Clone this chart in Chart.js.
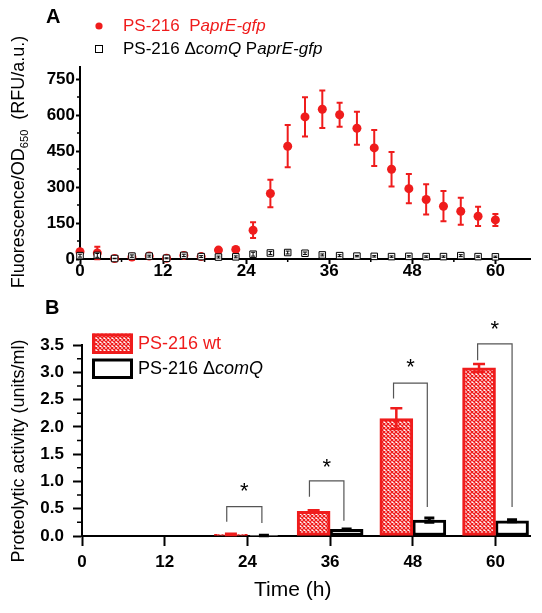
<!DOCTYPE html>
<html><head><meta charset="utf-8">
<script src="https://cdn.jsdelivr.net/npm/chart.js@4.4.1/dist/chart.umd.min.js"></script>
<style>
html,body{margin:0;padding:0;background:#fff;}
#wrap{position:relative;width:542px;height:613px;overflow:hidden;}
.box{position:absolute;left:0;width:542px;}
</style></head><body>
<div id="wrap">
<div class="box" style="top:0;height:300px"><canvas id="c1"></canvas></div>
<div class="box" style="top:300px;height:313px"><canvas id="c2"></canvas></div>
</div>
<script>
// ---------- data ----------
const timePoints = [0,2.5,5,7.5,10,12.5,15,17.5,20,22.5,25,27.5,30,32.5,35,37.5,40,42.5,45,47.5,50,52.5,55,57.5,60];
const wtFluor     = [30,25,2,8,12,3,15,10,37,40,120,273,470,592,624,601,545,463,374,293,248,220,199,178,163];
const wtFluorErr  = [10,26,2,5,5,3,5,5,8,6,33,57,88,82,78,50,69,75,72,61,63,63,56,40,25];
const comQFluor   = [14,15,2,12,12,3,15,10,8,9,20,25,27,24,17,14,12,11,10,11,10,10,14,10,9];
const comQFluorErr= [6,8,1,5,4,2,5,4,4,4,8,6,6,5,4,4,3,3,3,3,3,3,4,3,3];
const fluorTicks  = [0,150,300,450,600,750];
const timeTicks   = [0,12,24,36,48,60];

const barTimes        = [24,36,48,60];
const wtActivity      = [0.03,0.45,2.15,3.08];
const wtActivityErr   = [0.01,0.02,0.19,0.07];
const comQActivity    = [0.01,0.12,0.29,0.28];
const comQActivityErr = [0.005,0.01,0.04,0.02];
const activityTicks   = [0,0.5,1,1.5,2,2.5,3,3.5];
const sigLeft        = [21,33,45.2,57.4];
const sigRight       = [26.1,38,50.1,62.4];
const sigTop         = [0.54,1.01,2.80,3.52];
const sigLeftBottom  = [0.26,0.72,2.52,3.22];
const sigRightBottom = [0.24,0.28,0.53,0.53];
const sigStarY       = [0.92,1.37,3.19,3.90];

// ---------- helpers ----------
const FONT = '"Liberation Sans", Arial, sans-serif';
const RED = '#ef1c1c';
Chart.defaults.font.family = FONT;

function segFont(s, size){
  const fs = s.sub ? size*0.62 : size;
  return (s.italic?'italic ':'') + (s.bold?'bold ':'') + fs + 'px ' + FONT;
}
function richWidth(ctx, segs, size){
  let w = 0;
  for (const s of segs){ ctx.font = segFont(s,size); w += ctx.measureText(s.t).width; }
  return w;
}
function drawRich(ctx, x, y, segs, size, color){
  let cx = x;
  ctx.fillStyle = color; ctx.textBaseline = 'middle'; ctx.textAlign = 'left';
  for (const s of segs){
    ctx.font = segFont(s,size);
    ctx.fillText(s.t, cx, y + (s.sub ? size*0.32 : 0));
    cx += ctx.measureText(s.t).width;
  }
}
function drawRotated(ctx, cx, cy, segs, size, color){
  ctx.save();
  ctx.translate(cx, cy); ctx.rotate(-Math.PI/2);
  const w = richWidth(ctx, segs, size);
  drawRich(ctx, -w/2, 0, segs, size, color);
  ctx.restore();
}
function errBar(ctx, x, yTop, yBot, half, color, lw){
  ctx.save(); ctx.strokeStyle = color; ctx.lineWidth = lw;
  ctx.beginPath();
  ctx.moveTo(x, yTop); ctx.lineTo(x, yBot);
  ctx.moveTo(x-half, yTop); ctx.lineTo(x+half, yTop);
  ctx.moveTo(x-half, yBot); ctx.lineTo(x+half, yBot);
  ctx.stroke(); ctx.restore();
}
function minorTicksX(ctx, scale, values, len, lw){
  ctx.save(); ctx.strokeStyle='#000'; ctx.lineWidth=lw; ctx.beginPath();
  for (const v of values){ const x = scale.getPixelForValue(v); ctx.moveTo(x, scale.top); ctx.lineTo(x, scale.top+len); }
  ctx.stroke(); ctx.restore();
}
function minorTicksY(ctx, scale, values, len, lw){
  ctx.save(); ctx.strokeStyle='#000'; ctx.lineWidth=lw; ctx.beginPath();
  for (const v of values){ const y = scale.getPixelForValue(v); ctx.moveTo(scale.right, y); ctx.lineTo(scale.right-len, y); }
  ctx.stroke(); ctx.restore();
}
function mids(arr){ const o=[]; for(let i=0;i<arr.length-1;i++) o.push((arr[i]+arr[i+1])/2); return o; }

function makeHatch(){
  const c = document.createElement('canvas'); c.width = 4; c.height = 4;
  const g = c.getContext('2d');
  g.fillStyle = '#fff'; g.fillRect(0,0,4,4);
  g.strokeStyle = RED; g.lineWidth = 1.3;
  g.beginPath();
  g.moveTo(-1,-1); g.lineTo(5,5);
  g.moveTo(5,-1); g.lineTo(-1,5);
  g.stroke();
  return g.createPattern(c,'repeat');
}
const hatch = makeHatch();

const tickFont = {family: FONT, size: 17, weight: 'bold'};

// ---------- Panel A ----------
const topDecor = {
  id: 'topDecor',
  beforeDatasetsDraw(chart){
    const ctx = chart.ctx, xs = chart.scales.x, ys = chart.scales.y;
    timePoints.forEach((t,i)=>{
      const x = xs.getPixelForValue(t);
      errBar(ctx, x, ys.getPixelForValue(wtFluor[i]+wtFluorErr[i]), ys.getPixelForValue(wtFluor[i]-wtFluorErr[i]), 3, RED, 2);
    });
  },
  afterDatasetsDraw(chart){
    const ctx = chart.ctx, xs = chart.scales.x, ys = chart.scales.y;
    timePoints.forEach((t,i)=>{
      const x = xs.getPixelForValue(t);
      errBar(ctx, x, ys.getPixelForValue(comQFluor[i]+comQFluorErr[i]), ys.getPixelForValue(comQFluor[i]-comQFluorErr[i]), 2, '#000', 1);
    });
  },
  afterDraw(chart){
    const ctx = chart.ctx, xs = chart.scales.x, ys = chart.scales.y;
    minorTicksX(ctx, xs, mids(timeTicks), 3, 1.5);
    minorTicksY(ctx, ys, mids(fluorTicks), 3, 1.5);
    drawRotated(ctx, 19, 162, [
      {t:'Fluorescence/OD'},{t:'650',sub:true},{t:'  (RFU/a.u.)'}
    ], 18, '#000');
    ctx.fillStyle='#000'; ctx.font='bold 20px '+FONT; ctx.textBaseline='middle'; ctx.textAlign='left';
    ctx.fillText('A', 46, 17);
    ctx.save(); ctx.fillStyle = RED; ctx.beginPath(); ctx.arc(99, 26, 3.6, 0, Math.PI*2); ctx.fill(); ctx.restore();
    drawRich(ctx, 123, 26, [{t:'PS-216  P'},{t:'aprE-gfp',italic:true}], 17, RED);
    ctx.save(); ctx.fillStyle='#fff'; ctx.strokeStyle='#000'; ctx.lineWidth=1;
    ctx.fillRect(95.5, 45.5, 7, 7); ctx.strokeRect(95.5, 45.5, 7, 7); ctx.restore();
    drawRich(ctx, 123, 49.5, [{t:'PS-216 \u0394'},{t:'comQ',italic:true},{t:' P'},{t:'aprE-gfp',italic:true}], 17, '#000');
  }
};

new Chart(document.getElementById('c1'), {
  type: 'scatter',
  data: { datasets: [
    { label: 'PS-216 \u0394comQ PaprE-gfp',
      data: timePoints.map((t,i)=>({x:t, y:comQFluor[i]})),
      pointStyle: 'rect', pointRadius: 4.6, backgroundColor: '#fff', borderColor: '#000', borderWidth: 1, clip: false },
    { label: 'PS-216 PaprE-gfp',
      data: timePoints.map((t,i)=>({x:t, y:wtFluor[i]})),
      pointStyle: 'circle', pointRadius: 4.5, backgroundColor: RED, borderColor: RED, borderWidth: 0, clip: false }
  ]},
  options: {
    responsive: true, maintainAspectRatio: false, animation: false, events: [],
    layout: { padding: { left: 0, right: 12, top: 67, bottom: 0 } },
    plugins: { legend: { display: false }, tooltip: { enabled: false } },
    scales: {
      x: { type: 'linear', min: 0, max: 65,
        afterBuildTicks: s => { s.ticks = timeTicks.map(v => ({value: v})); },
        afterFit: s => { s.height = 41; },
        ticks: { font: tickFont, color: '#000', padding: -3, autoSkip: false, maxRotation: 0 },
        grid: { drawOnChartArea: false, tickLength: 5, tickWidth: 2, tickColor: '#000' },
        border: { color: '#000', width: 2 } },
      y: { type: 'linear', min: 0, max: 800,
        afterBuildTicks: s => { s.ticks = fluorTicks.map(v => ({value: v})); },
        afterFit: s => { s.width = 80; },
        ticks: { font: tickFont, color: '#000', padding: 1 },
        grid: { drawOnChartArea: false, tickLength: 4, tickWidth: 2, tickColor: '#000' },
        border: { color: '#000', width: 2 } }
    }
  },
  plugins: [topDecor]
});

// ---------- Panel B ----------
const botDecor = {
  id: 'botDecor',
  afterDatasetsDraw(chart){
    const ctx = chart.ctx, xs = chart.scales.x, ys = chart.scales.y;
    const m0 = chart.getDatasetMeta(0).data, m1 = chart.getDatasetMeta(1).data;
    barTimes.forEach((t,i)=>{
      errBar(ctx, m0[i].x, ys.getPixelForValue(wtActivity[i]+wtActivityErr[i]), ys.getPixelForValue(wtActivity[i]-wtActivityErr[i]), 6, RED, 2.5);
      errBar(ctx, m1[i].x, ys.getPixelForValue(comQActivity[i]+comQActivityErr[i]), ys.getPixelForValue(comQActivity[i]-comQActivityErr[i]), 5, '#000', 3);
      const xl = xs.getPixelForValue(sigLeft[i]), xr = xs.getPixelForValue(sigRight[i]);
      const yt = ys.getPixelForValue(sigTop[i]);
      ctx.save(); ctx.strokeStyle = '#555'; ctx.lineWidth = 1.2; ctx.beginPath();
      ctx.moveTo(xl, ys.getPixelForValue(sigLeftBottom[i])); ctx.lineTo(xl, yt);
      ctx.lineTo(xr, yt); ctx.lineTo(xr, ys.getPixelForValue(sigRightBottom[i]));
      ctx.stroke(); ctx.restore();
      ctx.save(); ctx.fillStyle = '#000'; ctx.font = '22px ' + FONT; ctx.textAlign = 'center'; ctx.textBaseline = 'alphabetic';
      ctx.fillText('*', (xl+xr)/2, ys.getPixelForValue(sigStarY[i]) + 22*0.57);
      ctx.restore();
    });
  },
  afterDraw(chart){
    const ctx = chart.ctx, xs = chart.scales.x, ys = chart.scales.y;
    minorTicksY(ctx, ys, mids(activityTicks), 5, 1.5);
    drawRotated(ctx, 19, 151, [{t:'Proteolytic activity (units/ml)'}], 18, '#000');
    ctx.fillStyle = '#000'; ctx.font = '21px ' + FONT; ctx.textAlign = 'center'; ctx.textBaseline = 'middle';
    ctx.fillText('Time (h)', (xs.getPixelForValue(0)+xs.getPixelForValue(60))/2 + 4, 290);
    ctx.font = 'bold 20px ' + FONT; ctx.textAlign = 'left';
    ctx.fillText('B', 45, 8);
    ctx.save();
    ctx.fillStyle = hatch; ctx.fillRect(92, 33.5, 41, 20.5);
    ctx.strokeStyle = RED; ctx.lineWidth = 3; ctx.strokeRect(93.5, 35, 38, 17.5);
    ctx.fillStyle = '#fff'; ctx.fillRect(92, 58.5, 41, 20.5);
    ctx.strokeStyle = '#000'; ctx.strokeRect(93.5, 60, 38, 17.5);
    ctx.restore();
    drawRich(ctx, 138, 44, [{t:'PS-216 wt'}], 18, RED);
    drawRich(ctx, 138, 69, [{t:'PS-216 \u0394'},{t:'comQ',italic:true}], 18, '#000');
  }
};

new Chart(document.getElementById('c2'), {
  type: 'bar',
  data: { datasets: [
    { label: 'PS-216 wt', data: barTimes.map((t,i)=>({x:t, y:wtActivity[i]})),
      backgroundColor: hatch, borderColor: RED, borderWidth: 3, borderSkipped: false, barThickness: 33 },
    { label: 'PS-216 \u0394comQ', data: barTimes.map((t,i)=>({x:t, y:comQActivity[i]})),
      backgroundColor: '#fff', borderColor: '#000', borderWidth: 3, borderSkipped: false, barThickness: 33 }
  ]},
  options: {
    responsive: true, maintainAspectRatio: false, animation: false, events: [],
    layout: { padding: { left: 0, right: 12, top: 45, bottom: 0 } },
    plugins: { legend: { display: false }, tooltip: { enabled: false } },
    scales: {
      x: { type: 'linear', min: 0, max: 65, offset: false,
        afterBuildTicks: s => { s.ticks = timeTicks.map(v => ({value: v})); },
        afterFit: s => { s.height = 77; },
        ticks: { font: tickFont, color: '#000', padding: 6, autoSkip: false, maxRotation: 0 },
        grid: { drawOnChartArea: false, offset: false, tickLength: 10, tickWidth: 2, tickColor: '#000' },
        border: { color: '#000', width: 2 } },
      y: { type: 'linear', min: 0, max: 3.5,
        afterBuildTicks: s => { s.ticks = activityTicks.map(v => ({value: v})); },
        afterFit: s => { s.width = 82; },
        ticks: { font: tickFont, color: '#000', padding: 9, callback: v => Number(v).toFixed(1) },
        grid: { drawOnChartArea: false, tickLength: 9, tickWidth: 2, tickColor: '#000' },
        border: { color: '#000', width: 2 } }
    }
  },
  plugins: [botDecor]
});
</script>
</body></html>
